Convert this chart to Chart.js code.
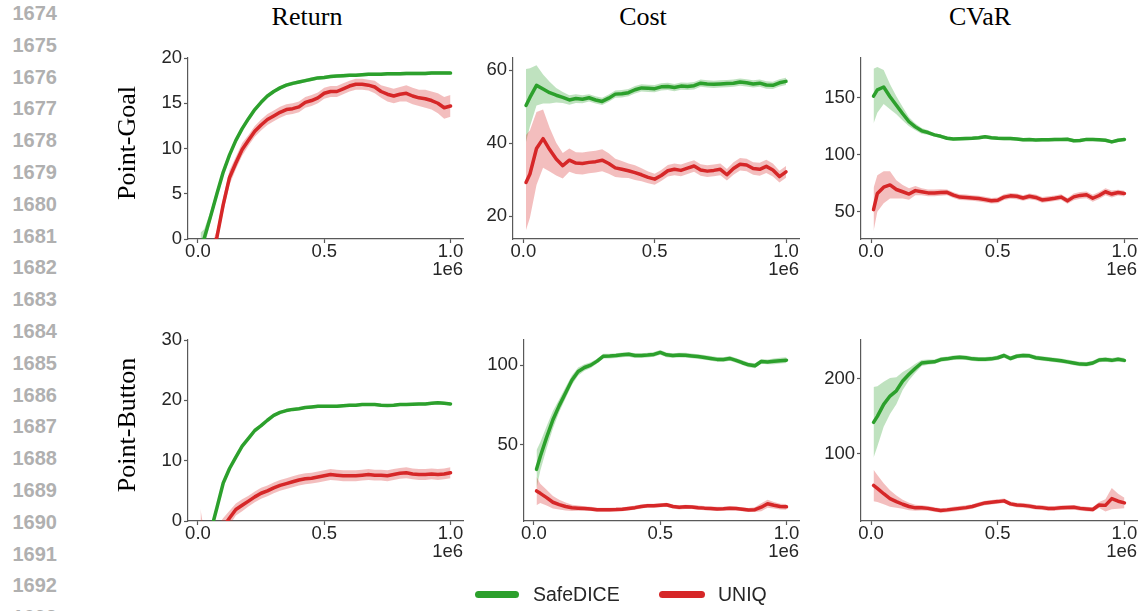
<!DOCTYPE html>
<html lang="en">
<head>
<meta charset="UTF-8">
<title>SafeDICE vs UNIQ</title>
<style>
  body { margin: 0; background: #fff; width: 1142px; height: 611px; position: relative; overflow: hidden;
         font-family: "Liberation Sans", Arial, sans-serif; }
  canvas { position: absolute; }
  .lineno { position: absolute; left: 0; width: 57px; text-align: right; font-size: 20px; line-height: 20px;
            font-weight: bold; color: #b0b0b0; }
  .coltitle { position: absolute; top: 4px; font-family: "Liberation Serif", "Times New Roman", serif; font-size: 26px;
              line-height: 26px; transform: translateX(-50%); white-space: nowrap; color: #000; }
  .rowlabel { position: absolute; font-family: "Liberation Serif", "Times New Roman", serif; font-size: 26px;
              line-height: 26px; white-space: nowrap; color: #000; transform: translate(-50%, -50%) rotate(-90deg); }
  .sw { position: absolute; top: 591px; height: 7px; border-radius: 3.5px; }
  .lt { position: absolute; top: 584px; font-size: 19.5px; line-height: 20px; color: #262626; }
</style>
<script src="https://cdn.jsdelivr.net/npm/chart.js"></script>
</head>
<body>

<script>
// training steps, in units of 1e6
const steps = [0.01, 0.025, 0.05, 0.075, 0.1, 0.125, 0.15, 0.175, 0.2, 0.225,
               0.25, 0.275, 0.3, 0.325, 0.35, 0.375, 0.4, 0.425, 0.45, 0.475,
               0.5, 0.525, 0.55, 0.575, 0.6, 0.625, 0.65, 0.675, 0.7, 0.725,
               0.75, 0.775, 0.8, 0.825, 0.85, 0.875, 0.9, 0.925, 0.95, 0.975, 1.0];

const methods = ['SafeDICE', 'UNIQ'];
const columns = ['Return', 'Cost', 'CVaR'];
const rows = ['Point-Goal', 'Point-Button'];

// ---- Point-Goal ----
const goalReturnSafe = [-1.3, 0.1, 2.5, 5.0, 7.4, 9.3, 10.9, 12.2, 13.3, 14.3,
  15.1, 15.8, 16.3, 16.7, 17.0, 17.2, 17.35, 17.5, 17.65, 17.8,
  17.85, 17.95, 18.0, 18.05, 18.1, 18.1, 18.15, 18.2, 18.2, 18.2,
  18.25, 18.25, 18.25, 18.3, 18.3, 18.3, 18.3, 18.35, 18.35, 18.35, 18.33];
const goalReturnSafeSd = [2.0, 1.0, 0.6, 0.5, 0.4, 0.3, 0.3, 0.25, 0.25, 0.2,
  0.2, 0.2, 0.2, 0.2, 0.2, 0.2, 0.2, 0.2, 0.2, 0.2,
  0.2, 0.2, 0.2, 0.2, 0.2, 0.2, 0.2, 0.2, 0.2, 0.2,
  0.2, 0.2, 0.2, 0.2, 0.2, 0.2, 0.2, 0.2, 0.2, 0.2, 0.2];
const goalReturnUniq = [-6.0, -4.5, -2.0, 0.2, 3.8, 6.8, 8.4, 9.9, 10.9, 11.9,
  12.6, 13.2, 13.6, 14.0, 14.3, 14.4, 14.6, 15.1, 15.3, 15.6,
  16.1, 16.3, 16.3, 16.6, 16.9, 17.1, 17.1, 17.0, 16.8, 16.3,
  16.0, 15.8, 16.0, 16.1, 15.8, 15.6, 15.5, 15.3, 15.0, 14.5, 14.7];
const goalReturnUniqSd = [1.5, 1.2, 1.0, 0.8, 0.8, 0.8, 0.7, 0.7, 0.6, 0.6,
  0.6, 0.6, 0.6, 0.6, 0.6, 0.6, 0.6, 0.6, 0.6, 0.6,
  0.6, 0.6, 0.6, 0.6, 0.6, 0.6, 0.6, 0.6, 0.7, 0.7,
  0.8, 0.8, 0.8, 0.9, 0.9, 0.9, 1.0, 1.0, 1.1, 1.2, 1.2];

const goalCostSafe = [50.3, 52.5, 55.8, 54.8, 53.8, 53.1, 52.5, 51.8, 52.2, 52.0,
  52.4, 51.8, 51.4, 52.3, 53.4, 53.5, 53.8, 54.6, 55.1, 55.0,
  54.9, 55.4, 55.5, 55.2, 55.6, 55.5, 55.7, 56.4, 56.2, 56.1,
  56.2, 56.3, 56.4, 56.7, 56.5, 56.2, 56.4, 55.9, 55.8, 56.5, 56.9];
const goalCostSafeSd = [10, 8, 5.5, 4, 3, 2, 1.5, 1.3, 1.2, 1.1,
  1, 1, 1, 1, 1, 1, 1, 1, 1, 1,
  1, 1, 1, 1, 1, 1, 1, 1, 1, 1,
  1, 1, 1, 1, 1, 1, 1, 1, 1, 1, 1];
const goalCostUniq = [29.2, 31.5, 38.5, 41.2, 38.2, 35.6, 33.8, 35.3, 34.5, 34.4,
  34.7, 34.9, 35.3, 34.4, 33.2, 32.8, 32.4, 31.9, 31.3, 30.6,
  30.1, 31.1, 32.4, 32.8, 32.5, 33.1, 33.7, 32.6, 32.3, 32.5,
  32.8, 31.3, 33.0, 34.2, 34.0, 33.0, 32.8, 33.6, 32.6, 30.8, 32.1];
const goalCostUniqSd = [13, 12, 10, 8, 6, 4.5, 3.5, 3.2, 3, 3,
  3, 3, 3, 2.8, 2.5, 2.3, 2, 2, 1.8, 1.6,
  1.5, 1.5, 1.6, 1.6, 1.6, 1.6, 1.6, 1.6, 1.6, 1.6,
  1.6, 1.6, 1.7, 1.7, 1.7, 1.7, 1.8, 1.8, 1.8, 1.6, 1.6];

const goalCvarSafe = [151.5, 157, 159.5, 151, 143.5, 136, 129, 124.5, 121, 119.5,
  117.5, 116.2, 114.5, 113.8, 114.0, 114.3, 114.5, 115.0, 115.9, 115.0,
  114.5, 114.3, 114.3, 113.8, 113.2, 113.3, 113.0, 113.2, 113.1, 113.4,
  113.5, 113.6, 112.3, 112.5, 113.5, 113.5, 113.1, 112.7, 111.3, 112.8, 113.5];
const goalCvarSafeSd = [24, 20, 15, 11, 8, 6, 4, 3, 2.5, 2,
  1.5, 1.5, 1.5, 1.5, 1.5, 1.5, 1.5, 1.5, 1.5, 1.5,
  1.5, 1.5, 1.5, 1.5, 1.5, 1.5, 1.5, 1.5, 1.5, 1.5,
  1.5, 1.5, 1.5, 1.5, 1.5, 1.5, 1.5, 1.5, 1.5, 1.5, 1.5];
const goalCvarUniq = [51.8, 66, 71.5, 73.5, 69.5, 67.5, 65.5, 68.5, 67.5, 66.5,
  66.5, 66.8, 67.0, 64.5, 62.8, 62.5, 62.0, 61.5, 60.6, 59.6,
  60.0, 62.8, 63.9, 63.5, 62.0, 63.5, 62.5, 60.3, 61.0, 61.8,
  62.8, 59.5, 63.0, 64.3, 64.8, 61.8, 64.2, 67.5, 65.5, 66.8, 65.9];
const goalCvarUniqSd = [19, 16, 14, 12, 8, 6, 5, 4, 3, 3,
  3, 2.8, 2.5, 2.5, 2.5, 2.5, 2.5, 2.5, 2.5, 2.5,
  2.5, 2.5, 2.5, 2.5, 2.5, 2.5, 2.5, 2.5, 2.5, 2.5,
  2.5, 2.5, 3, 3, 3, 3, 3, 3, 3, 2.5, 2.5];

// ---- Point-Button ----
const buttonReturnSafe = [-6.0, -4.5, -1.8, 2.2, 6.3, 8.7, 10.6, 12.4, 13.7, 15.0,
  15.8, 16.7, 17.5, 18.0, 18.3, 18.5, 18.6, 18.8, 18.9, 19.0,
  19.0, 19.0, 19.0, 19.1, 19.2, 19.2, 19.3, 19.3, 19.3, 19.2,
  19.15, 19.2, 19.3, 19.3, 19.35, 19.4, 19.4, 19.5, 19.6, 19.5, 19.4];
const buttonReturnSafeSd = [0.6, 0.5, 0.4, 0.35, 0.3, 0.3, 0.3, 0.25, 0.25, 0.25,
  0.25, 0.25, 0.25, 0.25, 0.25, 0.25, 0.25, 0.25, 0.25, 0.25,
  0.25, 0.25, 0.25, 0.25, 0.25, 0.25, 0.25, 0.25, 0.25, 0.25,
  0.25, 0.25, 0.25, 0.25, 0.25, 0.25, 0.25, 0.25, 0.25, 0.25, 0.25];
const buttonReturnUniq = [-8, -7, -5, -3, -1, 0.5, 1.9, 2.6, 3.3, 4.0,
  4.6, 5.0, 5.5, 5.9, 6.2, 6.5, 6.8, 7.0, 7.1, 7.3,
  7.5, 7.7, 7.6, 7.5, 7.5, 7.5, 7.6, 7.7, 7.6, 7.6,
  7.5, 7.7, 7.9, 8.0, 7.8, 7.7, 7.7, 7.8, 7.7, 7.8, 8.0];
const buttonReturnUniqSd = [10, 5, 3, 2, 1.5, 1.2, 1.0, 1.0, 0.9, 0.9,
  0.9, 0.9, 0.9, 0.9, 0.9, 0.9, 0.9, 0.9, 0.9, 0.9,
  0.9, 0.9, 0.9, 0.9, 0.9, 0.9, 0.9, 0.9, 0.9, 0.9,
  0.9, 0.9, 0.9, 0.9, 0.9, 0.9, 0.9, 0.9, 0.9, 0.9, 0.9];

const buttonCostSafe = [34.4, 42.5, 54.5, 65.6, 74.5, 82.5, 90.5, 96, 98.5, 100,
  102.5, 105.6, 105.7, 106, 106.5, 106.8, 106, 106, 106.3, 106.7,
  108, 106.5, 106, 106.3, 106.2, 105.8, 105.4, 104.8, 104.2, 103.6,
  103.5, 104.2, 103, 101.5, 100.2, 99.6, 102.3, 102, 102.4, 102.8, 103.1];
const buttonCostSafeSd = [12, 9, 7, 5.5, 4, 3.5, 3, 2.5, 2, 1.8,
  1.5, 1.5, 1.5, 1.5, 1.5, 1.5, 1.5, 1.5, 1.5, 1.5,
  1.5, 1.5, 1.5, 1.5, 1.5, 1.5, 1.5, 1.5, 1.5, 1.5,
  1.5, 1.5, 1.5, 1.5, 1.5, 1.5, 1.5, 1.5, 1.8, 1.8, 1.8];
const buttonCostUniq = [20.8, 19.3, 16.6, 13.7, 12.2, 11.0, 10.2, 10.0, 9.8, 9.5,
  9.0, 9.0, 9.0, 9.1, 9.3, 9.8, 10.3, 11.0, 11.5, 11.5,
  11.8, 12.1, 11.0, 10.5, 10.8, 10.7, 10.3, 10.0, 9.8, 9.5,
  9.6, 9.9, 9.8, 9.3, 8.8, 9.0, 10.6, 12.8, 11.8, 11.0, 10.8];
const buttonCostUniqSd = [9, 6, 5, 4, 3, 2.5, 2, 1.6, 1.4, 1.3,
  1.3, 1.3, 1.3, 1.3, 1.3, 1.3, 1.3, 1.3, 1.3, 1.3,
  1.3, 1.3, 1.3, 1.3, 1.3, 1.3, 1.3, 1.3, 1.3, 1.3,
  1.3, 1.3, 1.3, 1.3, 1.3, 1.5, 2.5, 2.5, 2.0, 1.8, 1.8];

const buttonCvarSafe = [142, 150, 166, 177, 184, 197, 206, 214, 221, 222,
  222.5, 225.5, 226.5, 228, 228.5, 228, 226.5, 226, 226, 226.5,
  228, 231, 227, 230, 231, 230.5, 228, 227, 226, 225,
  224, 222.5, 221, 219.5, 219.3, 221, 225, 225.5, 224.5, 226, 224.5];
const buttonCvarSafeSd = [47, 40, 30, 24, 18, 12, 8, 6, 4, 3.5,
  3, 3, 3, 3, 3, 3, 3, 3, 3, 3,
  3, 3, 3, 3, 3, 3, 3, 3, 3, 3,
  3, 3, 3, 3, 3, 3, 3, 3, 3, 3, 3];
const buttonCvarUniq = [58, 54, 47, 40.5, 36.5, 33, 30, 28.2, 28.2, 27.5,
  26, 24.8, 25.5, 26.5, 27.5, 28.5, 30, 32.5, 34.8, 35.8,
  36.5, 37.5, 33.5, 32, 31.5, 30.5, 29, 28.5, 27.3, 27.5,
  28.2, 28.8, 29, 27.5, 26.8, 26, 32, 31.5, 40.5, 37, 34.8];
const buttonCvarUniqSd = [21, 18, 14, 11, 8, 6, 5, 4, 3.5, 3,
  3, 3, 3, 3, 3, 3, 3, 3, 3, 3,
  3, 3, 3, 3, 3, 3, 3, 3, 3, 3,
  3, 3, 3, 3, 3, 3, 4, 8, 14, 10, 7];

// tick labels
const xTicks = [0, 0.5, 1.0];
const goalReturnTicks = [0, 5, 10, 15, 20];
const goalCostTicks = [20, 40, 60];
const goalCvarTicks = [50, 100, 150];
const buttonReturnTicks = [0, 10, 20, 30];
const buttonCostTicks = [50, 100];
const buttonCvarTicks = [100, 200];

// ---- layout / style ----
const GREEN = '#2ca02c', RED = '#d62728';
const GREEN_FILL = 'rgba(44,160,44,0.3)', RED_FILL = 'rgba(214,39,40,0.3)';
const AXIS = '#595959', TEXT = '#262626';
const YW = 70, XH = 42, PAD = 14;

const panels = [
  { box: [188, 58, 463, 239], y: [0, 20], ticks: goalReturnTicks,
    safe: goalReturnSafe, safeSd: goalReturnSafeSd, uniq: goalReturnUniq, uniqSd: goalReturnUniqSd },
  { box: [513, 58, 799, 239], y: [13.7, 63.3], ticks: goalCostTicks,
    safe: goalCostSafe, safeSd: goalCostSafeSd, uniq: goalCostUniq, uniqSd: goalCostUniqSd },
  { box: [861, 58, 1137, 239], y: [26, 185], ticks: goalCvarTicks,
    safe: goalCvarSafe, safeSd: goalCvarSafeSd, uniq: goalCvarUniq, uniqSd: goalCvarUniqSd },
  { box: [188, 340, 463, 521], y: [0, 30], ticks: buttonReturnTicks,
    safe: buttonReturnSafe, safeSd: buttonReturnSafeSd, uniq: buttonReturnUniq, uniqSd: buttonReturnUniqSd },
  { box: [524, 340, 799, 521], y: [1.9, 115.8], ticks: buttonCostTicks,
    safe: buttonCostSafe, safeSd: buttonCostSafeSd, uniq: buttonCostUniq, uniqSd: buttonCostUniqSd },
  { box: [861, 340, 1137, 521], y: [10.7, 251.6], ticks: buttonCvarTicks,
    safe: buttonCvarSafe, safeSd: buttonCvarSafeSd, uniq: buttonCvarUniq, uniqSd: buttonCvarUniqSd }
];

Chart.defaults.font.family = '"Liberation Sans", Arial, sans-serif';

function pts(arr) { return steps.map((x, i) => ({ x: x, y: arr[i] })); }
function edge(mean, sd, sign) { return steps.map((x, i) => ({ x: x, y: mean[i] + sign * sd[i] })); }

function lineSet(label, data, color) {
  return { label: label, data: data, borderColor: color, borderWidth: 3.5, pointRadius: 0,
           borderJoinStyle: 'round', borderCapStyle: 'round', fill: false, clip: 0 };
}
function bandSet(data, fill, color) {
  return { data: data, borderWidth: 0, borderColor: 'transparent', pointRadius: 0,
           fill: fill, backgroundColor: color, clip: 0 };
}

panels.forEach(function (p) {
  const [l, t, r, b] = p.box;
  const cv = document.createElement('canvas');
  cv.width = r - l + YW + PAD;
  cv.height = b - t + PAD + XH;
  cv.style.left = (l - YW) + 'px';
  cv.style.top = (t - PAD) + 'px';
  document.body.appendChild(cv);

  new Chart(cv.getContext('2d'), {
    type: 'line',
    data: {
      datasets: [
        lineSet(methods[1], pts(p.uniq), RED),
        lineSet(methods[0], pts(p.safe), GREEN),
        bandSet(edge(p.uniq, p.uniqSd, -1), false, RED_FILL),
        bandSet(edge(p.uniq, p.uniqSd, 1), '-1', RED_FILL),
        bandSet(edge(p.safe, p.safeSd, -1), false, GREEN_FILL),
        bandSet(edge(p.safe, p.safeSd, 1), '-1', GREEN_FILL)
      ]
    },
    options: {
      responsive: false,
      animation: false,
      layout: { padding: { left: 0, top: PAD, right: PAD, bottom: 0 } },
      plugins: { legend: { display: false }, tooltip: { enabled: false } },
      scales: {
        x: {
          type: 'linear', min: -0.0395, max: 1.0495,
          afterBuildTicks: s => { s.ticks = xTicks.map(v => ({ value: v })); },
          afterFit: s => { s.height = XH; s.paddingLeft = 0; s.paddingRight = 0; },
          grid: { drawOnChartArea: false, drawTicks: true, tickLength: 4, tickColor: AXIS, tickWidth: 1.2 },
          border: { color: AXIS, width: 1.2 },
          ticks: { font: { size: 18.5, lineHeight: 1 }, color: TEXT, padding: 0, maxRotation: 0,
                   autoSkip: false, callback: v => v.toFixed(1) },
          title: { display: true, text: '1e6', align: 'end', color: TEXT, padding: 0,
                   font: { size: 18.5, lineHeight: 1.2 } }
        },
        y: {
          type: 'linear', min: p.y[0], max: p.y[1],
          afterBuildTicks: s => { s.ticks = p.ticks.map(v => ({ value: v })); },
          afterFit: s => { s.width = YW; s.paddingTop = 0; s.paddingBottom = 0; },
          grid: { drawOnChartArea: false, drawTicks: true, tickLength: 4, tickColor: AXIS, tickWidth: 1.2 },
          border: { color: AXIS, width: 1.2 },
          ticks: { font: { size: 18.5, lineHeight: 1 }, color: TEXT, padding: 2,
                   autoSkip: false, callback: v => String(v) }
        }
      }
    }
  });
});

// manuscript line numbers down the left margin
for (let i = 0; i < 20; i++) {
  const d = document.createElement('div');
  d.className = 'lineno';
  d.style.top = (3 + i * 31.8) + 'px';
  d.textContent = String(1674 + i);
  document.body.appendChild(d);
}

// column titles and row labels
const colCenters = [307, 643, 980];
columns.forEach((c, i) => {
  const d = document.createElement('div');
  d.className = 'coltitle';
  d.style.left = colCenters[i] + 'px';
  d.textContent = c;
  document.body.appendChild(d);
});
const rowCenters = [142.5, 425];
rows.forEach((rname, i) => {
  const d = document.createElement('div');
  d.className = 'rowlabel';
  d.style.left = '127px';
  d.style.top = rowCenters[i] + 'px';
  d.textContent = rname;
  document.body.appendChild(d);
});

// legend
const legendItems = [
  { sw: 475, w: 44, tx: 533, color: GREEN },
  { sw: 659, w: 46, tx: 718, color: RED }
];
legendItems.forEach((it, i) => {
  const s = document.createElement('div');
  s.className = 'sw';
  s.style.left = it.sw + 'px';
  s.style.width = it.w + 'px';
  s.style.background = it.color;
  document.body.appendChild(s);
  const tEl = document.createElement('div');
  tEl.className = 'lt';
  tEl.style.left = it.tx + 'px';
  tEl.textContent = methods[i];
  document.body.appendChild(tEl);
});
</script>
</body>
</html>
